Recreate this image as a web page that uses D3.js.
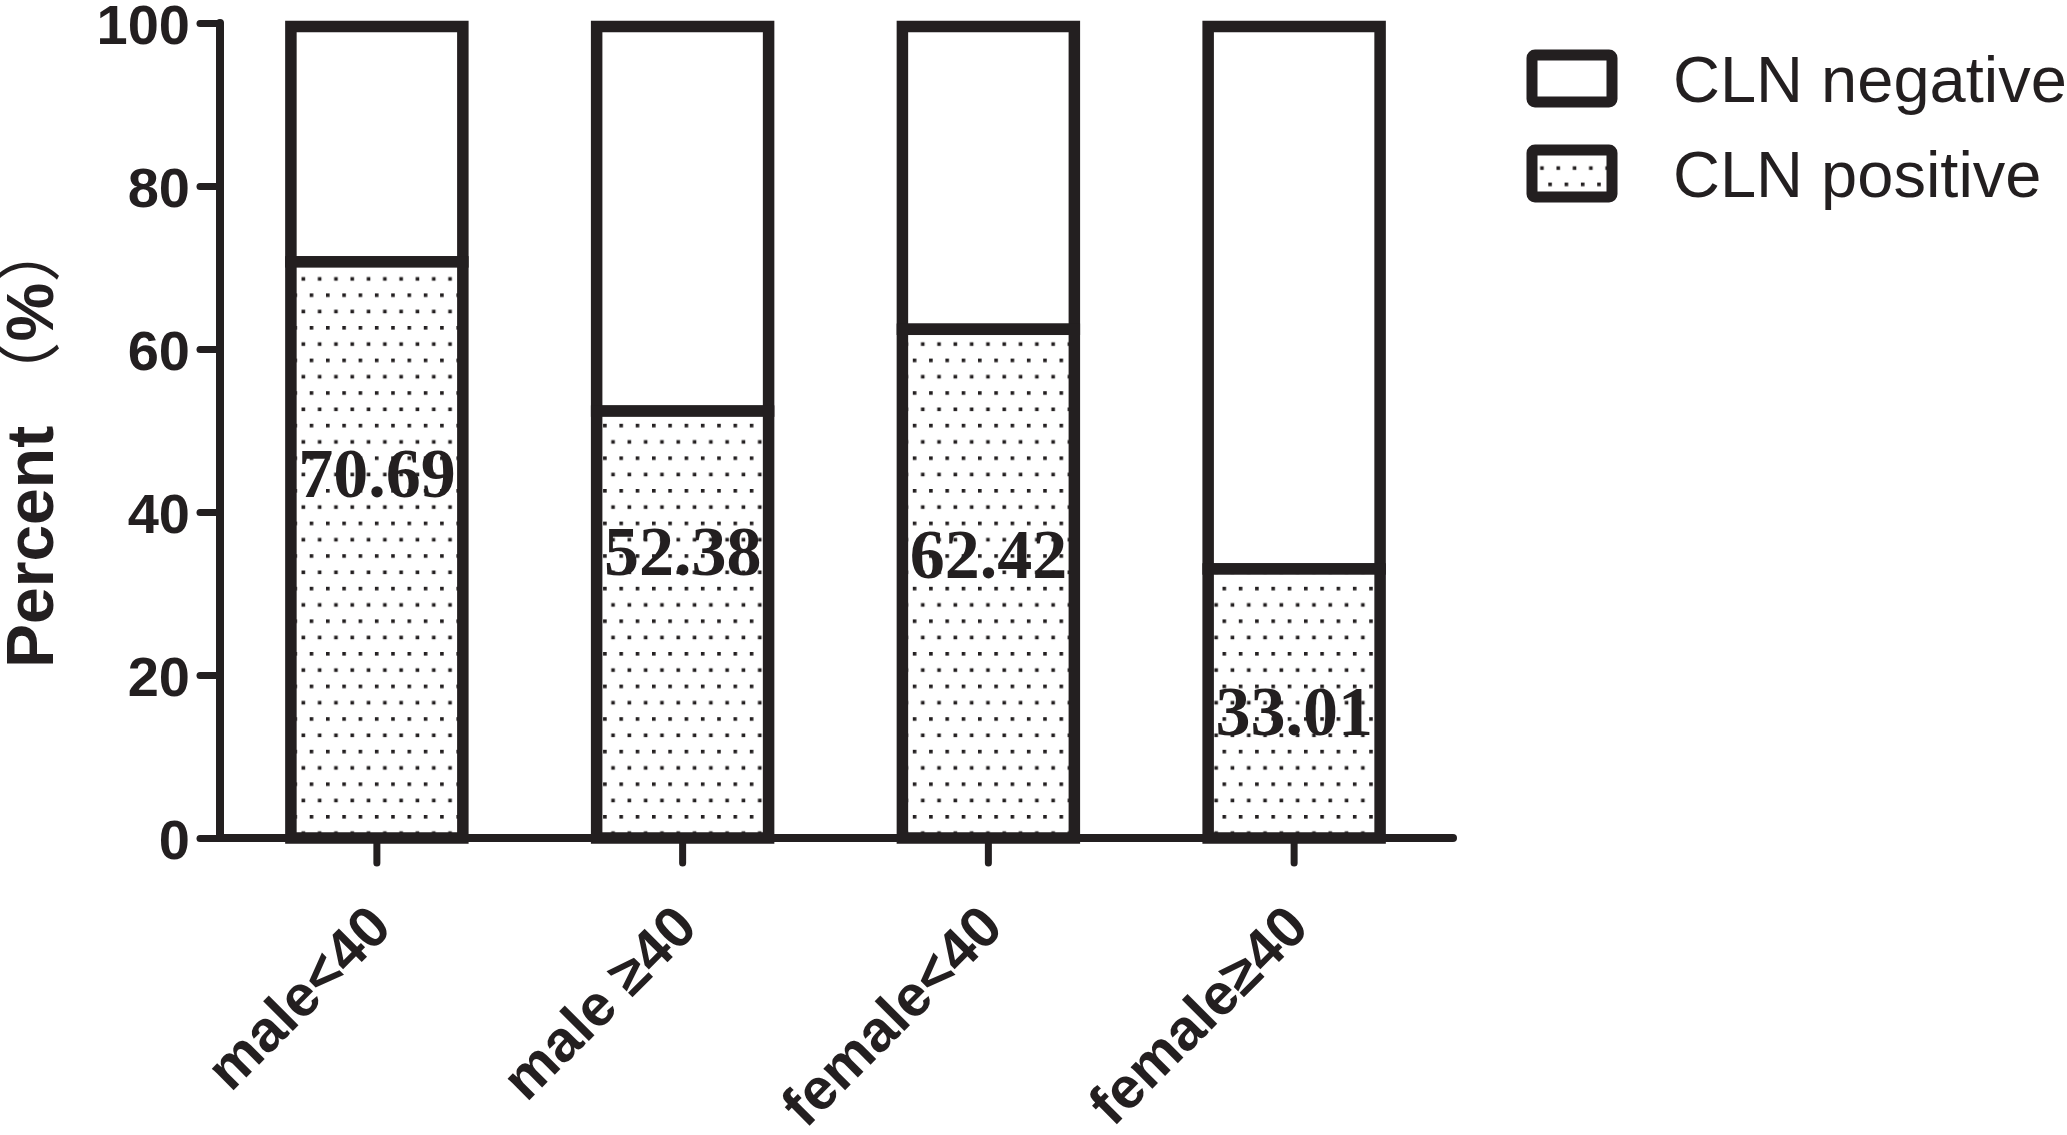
<!DOCTYPE html>
<html>
<head>
<meta charset="utf-8">
<script src="https://cdn.jsdelivr.net/npm/d3@7"></script>
<style>
  body { margin: 0; background: #fff; }
  .axis text { font-family: "Liberation Sans", Arial, sans-serif; font-weight: bold; fill: #231f20; }
</style>
</head>
<body>
<div id="chart"></div>
<script>
// values
var categories = ["male<40", "male ≥40", "female<40", "female≥40"];
var positive = [70.69, 52.38, 62.42, 33.01];
var negative = [29.31, 47.62, 37.58, 66.99];
// where each value label sits (baseline, in percent units)
var labelAt = [41.8, 32.3, 31.9, 12.6];
var yTicks = [0, 20, 40, 60, 80, 100];
var seriesNames = ["CLN negative", "CLN positive"];

var ink = "#231f20";

function drawChart() {
  var width = 2067, height = 1135;

  var svg = d3
    .select("#chart")
    .append("svg")
    .attr("width", width)
    .attr("height", height);

  // dotted fill used for the positive part
  var pat = svg
    .append("defs")
    .append("pattern")
    .attr("id", "dots")
    .attr("patternUnits", "userSpaceOnUse")
    .attr("width", 16.3)
    .attr("height", 32.6);
  pat.append("rect").attr("width", 16.3).attr("height", 32.6).attr("fill", "#fff");
  pat.append("rect").attr("x", 0).attr("y", 0).attr("width", 3.6).attr("height", 3.6).attr("fill", ink);
  pat.append("rect").attr("x", 8.15).attr("y", 16.3).attr("width", 3.6).attr("height", 3.6).attr("fill", ink);

  var axisX = 220, axisEnd = 1453;

  var x = d3
    .scaleBand()
    .domain(categories)
    .range([224, 1447])
    .paddingInner(0.4)
    .paddingOuter(0.2);

  var y = d3.scaleLinear().domain([0, 100]).range([838, 23]);

  var sw = 11.5; // bar outline width (drawn inside the bar)

  var rows = categories.map(function(c, i) {
    return { cat: c, pos: positive[i], neg: negative[i], lab: labelAt[i] };
  });

  var bars = svg.append("g").attr("class", "bars");

  // negative (upper, white) part
  bars
    .selectAll("rect.neg")
    .data(rows)
    .enter()
    .append("rect")
    .attr("class", "neg")
    .attr("x", (d) => x(d.cat) + sw / 2)
    .attr("width", x.bandwidth() - sw)
    .attr("y", (d) => y(d.pos + d.neg) + 3.5)
    .attr("height", (d) => y(d.pos) - y(d.pos + d.neg) - 3.5)
    .attr("fill", "#fff")
    .attr("stroke", ink)
    .attr("stroke-width", sw);

  // positive (lower, dotted) part
  bars
    .selectAll("rect.pos")
    .data(rows)
    .enter()
    .append("rect")
    .attr("class", "pos")
    .attr("x", (d) => x(d.cat) + sw / 2)
    .attr("width", x.bandwidth() - sw)
    .attr("y", (d) => y(d.pos))
    .attr("height", (d) => y(0) - y(d.pos))
    .attr("fill", "url(#dots)")
    .attr("stroke", ink)
    .attr("stroke-width", sw);

  // value labels
  bars
    .selectAll("text.val")
    .data(rows)
    .enter()
    .append("text")
    .attr("class", "val")
    .attr("x", (d) => x(d.cat) + x.bandwidth() / 2)
    .attr("y", (d) => y(d.lab))
    .attr("text-anchor", "middle")
    .style("font-family", '"Liberation Serif", "Times New Roman", serif')
    .style("font-weight", "bold")
    .style("font-size", "70px")
    .style("fill", ink)
    .text((d) => d.pos.toFixed(2));

  // y axis
  var yAxis = d3
    .axisLeft(y)
    .tickValues(yTicks)
    .tickSize(20)
    .tickSizeOuter(0)
    .tickPadding(10);

  var gy = svg
    .append("g")
    .attr("class", "axis")
    .attr("transform", `translate(${axisX}, 0)`)
    .call(yAxis);
  gy.select(".domain").remove();
  gy.selectAll(".tick line")
    .attr("stroke", ink)
    .attr("stroke-width", 7)
    .attr("stroke-linecap", "round");
  gy.selectAll(".tick text").style("font-size", "56px").attr("dy", "0.36em");

  svg
    .append("line")
    .attr("x1", axisX)
    .attr("x2", axisX)
    .attr("y1", y(0))
    .attr("y2", y(100))
    .attr("stroke", ink)
    .attr("stroke-width", 8)
    .attr("stroke-linecap", "round");

  // x axis
  var xAxis = d3.axisBottom(x).tickSize(25).tickSizeOuter(0);

  var gx = svg
    .append("g")
    .attr("class", "axis")
    .attr("transform", `translate(0, ${y(0)})`)
    .call(xAxis);
  gx.select(".domain").remove();
  gx.selectAll(".tick line")
    .attr("stroke", ink)
    .attr("stroke-width", 7)
    .attr("stroke-linecap", "round");
  gx.selectAll(".tick text")
    .style("font-size", "58px")
    .attr("text-anchor", "end")
    .attr("x", 0)
    .attr("y", 0)
    .attr("dy", 0)
    .attr("transform", "translate(17, 92) rotate(-45)");

  svg
    .append("line")
    .attr("x1", axisX)
    .attr("x2", axisEnd)
    .attr("y1", y(0))
    .attr("y2", y(0))
    .attr("stroke", ink)
    .attr("stroke-width", 8)
    .attr("stroke-linecap", "round");

  // y title
  var title = svg
    .append("text")
    .attr("transform", "translate(53, 668) rotate(-90)")
    .style("font-family", '"Liberation Sans", Arial, sans-serif')
    .style("font-weight", "bold")
    .style("font-size", "66px")
    .style("fill", ink);
  title.append("tspan").text("Percent ");
  title.append("tspan").style("font-family", '"Noto Sans CJK SC"').style("font-weight", "normal").text("（");
  title.append("tspan").text("%");
  title.append("tspan").style("font-family", '"Noto Sans CJK SC"').style("font-weight", "normal").text("）");

  // legend
  var legend = svg
    .selectAll("g.legend")
    .data(seriesNames)
    .enter()
    .append("g")
    .attr("class", "legend")
    .attr("transform", (d, i) => `translate(1532, ${55 + i * 95})`);

  legend
    .append("rect")
    .attr("width", 80)
    .attr("height", 47)
    .attr("rx", 3)
    .attr("fill", (d, i) => (i === 0 ? "#fff" : "url(#dots)"))
    .attr("stroke", ink)
    .attr("stroke-width", 11)
    .attr("stroke-linejoin", "round");

  legend
    .append("text")
    .attr("x", 141)
    .attr("y", 47)
    .style("font-family", '"Liberation Sans", Arial, sans-serif')
    .style("font-size", "65px")
    .style("fill", ink)
    .text((d) => d);
}

drawChart();
</script>
</body>
</html>
